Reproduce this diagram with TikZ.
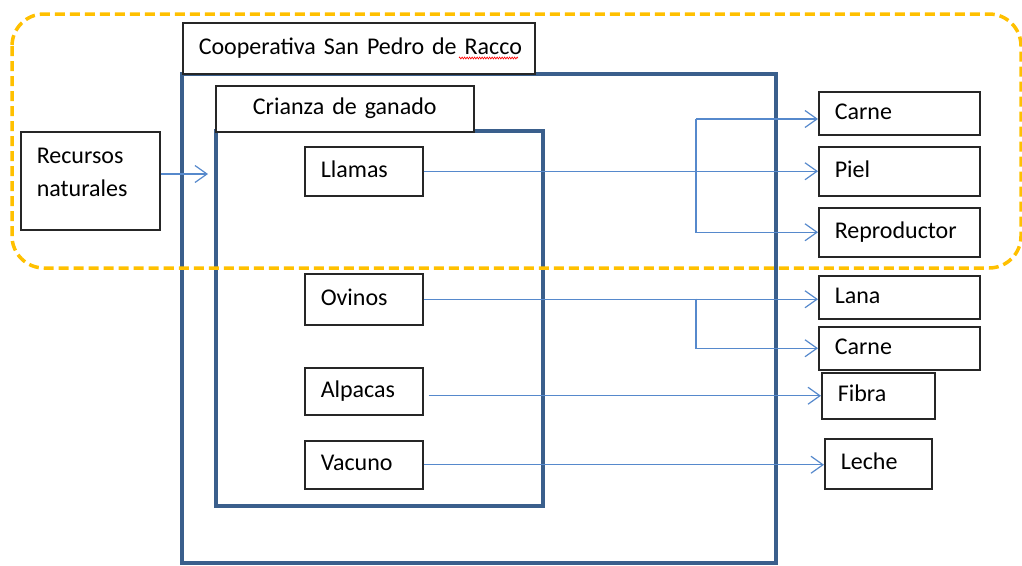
\documentclass[tikz,border=0pt]{standalone}
\usepackage{fontspec}
\setmainfont{Carlito}
\usetikzlibrary{arrows.meta, positioning, decorations.pathmorphing}

\definecolor{marco}{RGB}{58,95,140}
\definecolor{azulflecha}{RGB}{86,137,204}
\definecolor{naranja}{RGB}{255,192,0}

\tikzset{
    caja/.style={draw=black!85, line width=1.5pt, fill=white, anchor=north west,
        inner xsep=16pt, inner ysep=0pt, align=left},
    cajita/.style={caja, text height=17pt, text depth=5pt},
    flecha/.style={azulflecha, line width=1.2pt,
        -{Straight Barb[length=12pt, width=17pt, line width=1.2pt]}},
    marcoazul/.style={draw=marco, line width=4pt}
}

\begin{document}
\begin{tikzpicture}[x=1pt, y=-1pt, font=\fontsize{24}{33}\selectfont]
    \useasboundingbox (0,0) rectangle (1022,565);

    % Marcos
    \draw[marcoazul] (182,74) rectangle (776,563);
    \draw[marcoazul] (216,131) rectangle (543,506);

    % Titulos
    \node[cajita, text width=320pt, minimum height=51pt] (coop) at (182,22) {\mbox{Cooperativa San Pedro de Racco}};
    \draw[red, line width=0.6pt, decorate, decoration={zigzag, segment length=2.5pt, amplitude=1pt}] (459,58) -- (518,58);
    \node[cajita, text width=226pt, minimum height=46pt, align=center] (crianza) at (215,85) {Crianza de ganado};
    \node[caja, text width=107pt, text depth=50pt, minimum height=98pt] (recursos) at (20,131) {Recursos\\naturales};

    % Ganado
    \node[cajita, text width=86pt, minimum height=49pt] (llamas) at (304,146) {Llamas};
    \node[cajita, text width=86pt, minimum height=51pt] (ovinos) at (304,273) {Ovinos};
    \node[cajita, text width=86pt, minimum height=47pt] (alpacas) at (304,367) {Alpacas};
    \node[cajita, text width=86pt, minimum height=48pt] (vacuno) at (304,440) {Vacuno};

    % Productos
    \node[cajita, text width=129pt, minimum height=43pt] (carne) at (818,91) {Carne};
    \node[cajita, text width=129pt, minimum height=49pt] (piel) at (818,146) {Piel};
    \node[cajita, text width=129pt, minimum height=49pt] (reproductor) at (818,207) {Reproductor};
    \node[cajita, text width=129pt, minimum height=43pt] (lana) at (818,275) {Lana};
    \node[cajita, text width=129pt, minimum height=43pt] (carneov) at (818,326) {Carne};
    \node[cajita, text width=81pt, minimum height=46pt] (fibra) at (821,372) {Fibra};
    \node[cajita, text width=75pt, minimum height=50pt] (leche) at (824,438) {Leche};

    % Flechas
    \coordinate (entrada) at (208,174);
    \coordinate (ramal1) at (696,119);
    \coordinate (ramal2) at (696,298.5);

    \draw[flecha] (recursos.east |- entrada) -- (entrada);
    \draw[flecha] (llamas.east) -- (llamas.east -| piel.west);
    \draw[flecha] (ramal1) -- (ramal1 -| carne.west);
    \draw[flecha] (ramal1) -- (ramal1 |- reproductor.west) -- (reproductor.west);
    \draw[flecha] (ovinos.east) -- (ovinos.east -| lana.west);
    \draw[flecha] (ramal2) -- (ramal2 |- carneov.west) -- (carneov.west);
    \draw[flecha] ([xshift=5pt]alpacas.east |- fibra.west) -- (fibra.west);
    \draw[flecha] (vacuno.east) -- (vacuno.east -| leche.west);

    % Zona resaltada
    \draw[naranja, line width=3.5pt, dash pattern=on 10pt off 5pt, rounded corners=32pt] (12,14) rectangle (1021,268);
\end{tikzpicture}
\end{document}
